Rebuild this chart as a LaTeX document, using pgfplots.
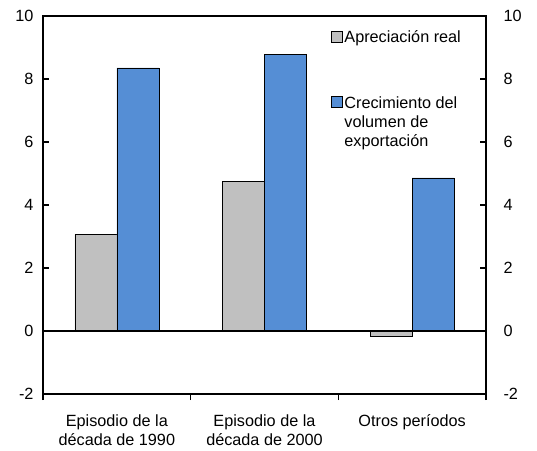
\documentclass[border=0pt]{standalone}
\usepackage{fontspec}
\setmainfont{Liberation Sans}
\usepackage{pgfplots}
\pgfplotsset{compat=1.18}
\definecolor{bargray}{RGB}{192,192,192}
\definecolor{barblue}{RGB}{85,142,213}
\begin{document}
\begin{tikzpicture}[font=\fontsize{16.3}{19.5}\selectfont]
\useasboundingbox (-43bp,-57bp) rectangle (494bp,394bp);
\begin{axis}[
  at={(0,0)}, anchor=south west,
  scale only axis, width=443bp, height=378bp,
  xmin=-0.5, xmax=2.5, ymin=-2, ymax=10,
  ybar=0pt, bar width=42bp,
  axis line style={line width=1.6bp},
  xtick={-0.5,0.5,1.5,2.5}, xticklabels={},
  xtick pos=bottom, xtick align=outside,
  ytick pos=left, ytick align=inside,
  major tick length=6bp,
  tick style={line width=1.2bp, black},
  ytick={-2,0,2,4,6,8,10},
  yticklabels={-2,0,2,4,6,8,10},
  yticklabel style={xshift=-6bp},
  extra x ticks={0,1,2},
  extra x tick labels={{Episodio de la\\década de 1990},{Episodio de la\\década de 2000},{Otros períodos}},
  extra x tick style={major tick length=0pt, xticklabel style={align=center, yshift=-17bp}},
  legend style={at={(0.650,0.962)}, anchor=north west, draw=none, fill=none,
    row sep=50bp, cells={anchor=base west}, inner xsep=0pt, inner ysep=0pt,
    nodes={inner xsep=1.5bp, inner ysep=0pt}},
  legend image code/.code={\draw[#1, draw=black, line width=0.8bp] (0bp,1bp) rectangle (11bp,12bp);},
]
\addplot[fill=bargray, draw=black, line width=0.6bp] coordinates {(0,3.07) (1,4.74) (2,-0.16)};
\addplot[fill=barblue, draw=black, line width=0.6bp] coordinates {(0,8.35) (1,8.77) (2,4.86)};
\legend{Apreciación real,{\begin{tabular}[t]{@{}l@{}}Crecimiento del\\volumen de\\exportación\end{tabular}}}
\draw[line width=1.6bp, black] (axis cs:-0.5,0) -- (axis cs:2.5,0);
\end{axis}
\begin{axis}[
  at={(0,0)}, anchor=south west,
  scale only axis, width=443bp, height=378bp,
  xmin=-0.5, xmax=2.5, ymin=-2, ymax=10,
  axis x line=none, axis y line*=right,
  axis line style={line width=1.6bp},
  ytick align=inside, major tick length=6bp,
  tick style={line width=1.2bp, black},
  ytick={-2,0,2,4,6,8,10},
  yticklabels={-2,0,2,4,6,8,10},
  yticklabel style={xshift=14bp},
]
\addplot[draw=none] coordinates {(0,0)};
\end{axis}
\end{tikzpicture}
\end{document}
